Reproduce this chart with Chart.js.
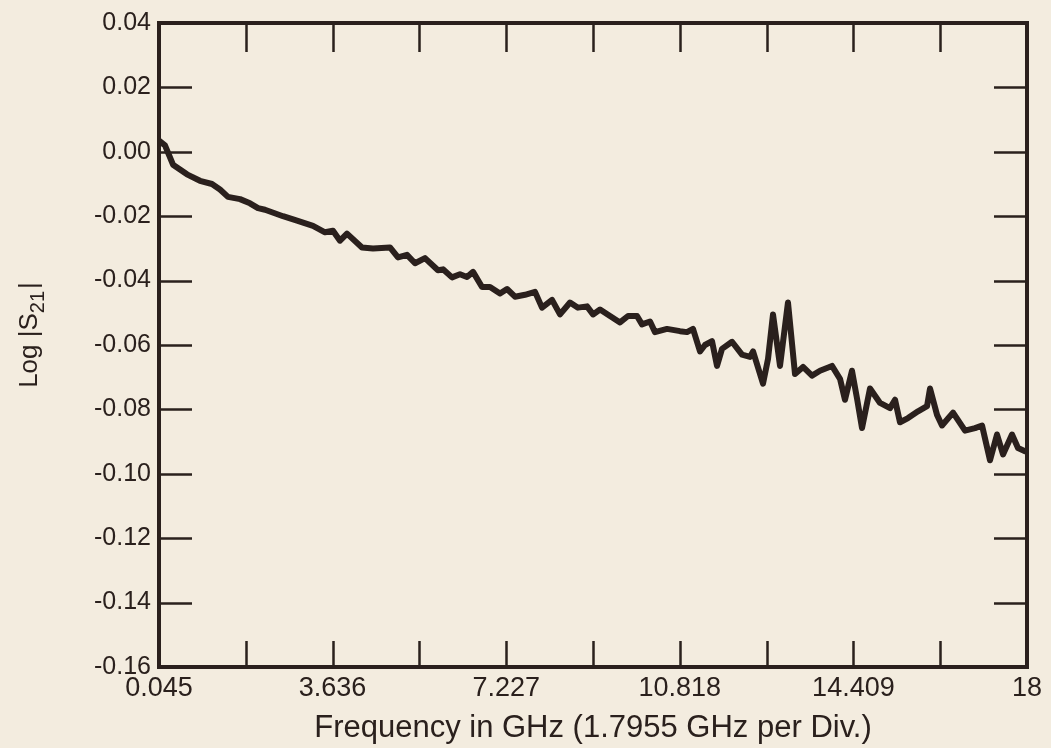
<!DOCTYPE html>
<html>
<head>
<meta charset="utf-8">
<script src="https://cdn.jsdelivr.net/npm/chart.js@4.4.1/dist/chart.umd.min.js"></script>
<style>
  html, body { margin: 0; padding: 0; background: #f3ecdf; }
  #wrap { width: 1051px; height: 748px; position: relative; }
</style>
</head>
<body>
<div id="wrap"><canvas id="s21Chart"></canvas></div>
<script>
// frequency (GHz)
const freqs = [
  0.045, 0.169, 0.335, 0.624, 0.893, 1.141, 1.307, 1.472, 1.721, 1.927,
  2.093, 2.238, 2.610, 2.900, 3.231, 3.479, 3.644, 3.789, 3.934, 4.244,
  4.472, 4.823, 4.989, 5.175, 5.341, 5.547, 5.816, 5.920, 6.106, 6.271,
  6.416, 6.541, 6.727, 6.892, 7.099, 7.244, 7.409, 7.616, 7.823, 7.968,
  8.175, 8.340, 8.547, 8.712, 8.899, 9.023, 9.168, 9.374, 9.581, 9.747,
  9.933, 10.036, 10.202, 10.305, 10.553, 10.822, 10.967, 11.091, 11.236, 11.339,
  11.484, 11.588, 11.691, 11.898, 12.105, 12.270, 12.333, 12.539, 12.643, 12.746,
  12.891, 13.056, 13.201, 13.367, 13.553, 13.718, 13.966, 14.132, 14.235, 14.380,
  14.484, 14.587, 14.753, 14.960, 15.166, 15.270, 15.373, 15.539, 15.746, 15.932,
  15.994, 16.139, 16.242, 16.470, 16.718, 16.925, 17.070, 17.235, 17.380, 17.504,
  17.690, 17.814, 17.959, 18.0
];

// Log |S21|
const logS21 = [
  0.0035, 0.0020, -0.0040, -0.0070, -0.0090, -0.0100, -0.0117, -0.0140, -0.0147, -0.0160,
  -0.0175, -0.0180, -0.0200, -0.0214, -0.0230, -0.0250, -0.0245, -0.0276, -0.0254, -0.0297,
  -0.0300, -0.0297, -0.0328, -0.0320, -0.0346, -0.0330, -0.0368, -0.0365, -0.0390, -0.0380,
  -0.0389, -0.0373, -0.0420, -0.0420, -0.0440, -0.0426, -0.0450, -0.0444, -0.0435, -0.0484,
  -0.0460, -0.0505, -0.0468, -0.0484, -0.0480, -0.0505, -0.0490, -0.0510, -0.0530, -0.0510,
  -0.0510, -0.0536, -0.0527, -0.0560, -0.0550, -0.0557, -0.0560, -0.0550, -0.0620, -0.0600,
  -0.0588, -0.0665, -0.0612, -0.0590, -0.0630, -0.0637, -0.0620, -0.0720, -0.0643, -0.0505,
  -0.0665, -0.0468, -0.0690, -0.0668, -0.0695, -0.0680, -0.0665, -0.0705, -0.0770, -0.0680,
  -0.0766, -0.0858, -0.0735, -0.0780, -0.0796, -0.0770, -0.0840, -0.0827, -0.0806, -0.0790,
  -0.0735, -0.0817, -0.0850, -0.0810, -0.0866, -0.0858, -0.0850, -0.0958, -0.0878, -0.0940,
  -0.0878, -0.0920, -0.0930, -0.0930
];

const xTicks = [0.045, 1.8405, 3.636, 5.4315, 7.227, 9.0225, 10.818, 12.6135, 14.409, 16.2045, 18];
const xTickLabels = ['0.045', '', '3.636', '', '7.227', '', '10.818', '', '14.409', '', '18'];
const yTicks = [-0.16, -0.14, -0.12, -0.10, -0.08, -0.06, -0.04, -0.02, 0.00, 0.02, 0.04];
const yTickLabels = ['-0.16', '-0.14', '-0.12', '-0.10', '-0.08', '-0.06', '-0.04', '-0.02', '0.00', '0.02', '0.04'];

const ink = '#2a201d';

const points = freqs.map((f, i) => ({ x: f, y: logS21[i] }));

// frame, inward ticks on all four sides, and the y title with subscript
const framePlugin = {
  id: 'frame',
  afterDatasetsDraw(chart) {
    const { ctx, chartArea: a, scales } = chart;
    const xs = scales.x, ys = scales.y;
    ctx.save();
    ctx.strokeStyle = ink;
    ctx.lineWidth = 2.5;
    xTicks.slice(1, -1).forEach(v => {
      const px = Math.round(xs.getPixelForValue(v)) + 0.5;
      ctx.beginPath();
      ctx.moveTo(px, a.bottom); ctx.lineTo(px, a.bottom - 26);
      ctx.moveTo(px, a.top); ctx.lineTo(px, a.top + 29);
      ctx.stroke();
    });
    yTicks.slice(1, -1).forEach(v => {
      const py = Math.round(ys.getPixelForValue(v)) + 0.5;
      ctx.beginPath();
      ctx.moveTo(a.left, py); ctx.lineTo(a.left + 33, py);
      ctx.moveTo(a.right, py); ctx.lineTo(a.right - 33, py);
      ctx.stroke();
    });
    ctx.lineWidth = 4;
    ctx.strokeRect(a.left, a.top, a.right - a.left, a.bottom - a.top);

    // y axis title: Log |S21|
    ctx.fillStyle = ink;
    ctx.translate(30, 335);
    ctx.rotate(-Math.PI / 2);
    const big = '26px "Liberation Sans", Arial, sans-serif';
    const small = '20px "Liberation Sans", Arial, sans-serif';
    ctx.font = big;
    const w1 = ctx.measureText('Log |S').width;
    const w3 = ctx.measureText('|').width;
    ctx.font = small;
    const w2 = ctx.measureText('21').width;
    let x0 = -(w1 + w2 + w3 + 2) / 2;
    ctx.textBaseline = 'middle';
    ctx.font = big;
    ctx.fillText('Log |S', x0, 0);
    ctx.font = small;
    ctx.fillText('21', x0 + w1, 8);
    ctx.font = big;
    ctx.fillText('|', x0 + w1 + w2 + 2, 0);
    ctx.restore();
  }
};

new Chart(document.getElementById('s21Chart'), {
  type: 'line',
  data: {
    datasets: [{
      data: points,
      borderColor: ink,
      borderWidth: 6,
      borderJoinStyle: 'round',
      borderCapStyle: 'round',
      pointRadius: 0,
      tension: 0,
      fill: false
    }]
  },
  options: {
    responsive: true,
    maintainAspectRatio: false,
    animation: false,
    layout: { padding: { left: 0, top: 14, right: 24, bottom: 0 } },
    plugins: { legend: { display: false }, tooltip: { enabled: false } },
    scales: {
      x: {
        type: 'linear',
        min: 0.045,
        max: 18,
        afterBuildTicks: s => { s.ticks = xTicks.map(v => ({ value: v })); },
        afterFit: s => { s.height = 81; },
        grid: { display: false, drawTicks: false },
        border: { display: false },
        ticks: {
          autoSkip: false,
          maxRotation: 0,
          padding: 5,
          color: ink,
          font: { family: '"Liberation Sans Narrow", "Liberation Sans", Arial, sans-serif', size: 27 },
          callback: (v, i) => xTickLabels[i]
        },
        title: {
          display: true,
          text: 'Frequency in GHz (1.7955 GHz per Div.)',
          color: ink,
          padding: { top: 0, bottom: 1 },
          font: { family: '"Liberation Sans Narrow", "Liberation Sans", Arial, sans-serif', size: 31 }
        }
      },
      y: {
        type: 'linear',
        min: -0.16,
        max: 0.04,
        afterBuildTicks: s => { s.ticks = yTicks.map(v => ({ value: v })); },
        afterFit: s => { s.width = 159; },
        grid: { display: false, drawTicks: false },
        border: { display: false },
        ticks: {
          autoSkip: false,
          padding: 8,
          color: ink,
          font: { family: '"Liberation Sans", Arial, sans-serif', size: 25 },
          callback: (v, i) => yTickLabels[i]
        }
      }
    }
  },
  plugins: [framePlugin]
});
</script>
</body>
</html>
